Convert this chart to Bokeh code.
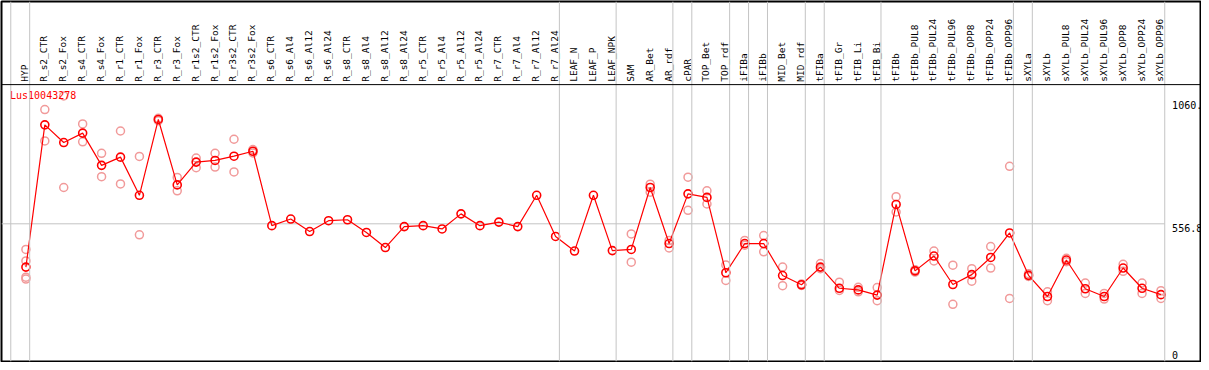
import math
from bokeh.plotting import figure
from bokeh.models import Range1d, Span, ColumnDataSource
from bokeh.core.properties import value
from bokeh.embed import file_html
from bokeh.resources import INLINE

title = "Lus10043278"

categories = [
    "HYP", "R_s2_CTR", "R_s2_Fox", "R_s4_CTR", "R_s4_Fox", "R_r1_CTR", "R_r1_Fox",
    "R_r3_CTR", "R_r3_Fox", "R_r1s2_CTR", "R_r1s2_Fox", "R_r3s2_CTR", "R_r3s2_Fox",
    "R_s6_CTR", "R_s6_Al4", "R_s6_Al12", "R_s6_Al24", "R_s8_CTR", "R_s8_Al4",
    "R_s8_Al12", "R_s8_Al24", "R_r5_CTR", "R_r5_Al4", "R_r5_Al12", "R_r5_Al24",
    "R_r7_CTR", "R_r7_Al4", "R_r7_Al12", "R_r7_Al24", "LEAF_N", "LEAF_P", "LEAF_NPK",
    "SAM", "AR_Bet", "AR_rdf", "cPAR", "TOP_Bet", "TOP_rdf", "iFIBa", "iFIBb",
    "MID_Bet", "MID_rdf", "tFIBa", "tFIB_Gr", "tFIB_Li", "tFIB_Bi", "tFIBb",
    "tFIBb_PUL8", "tFIBb_PUL24", "tFIBb_PUL96", "tFIBb_OPP8", "tFIBb_OPP24", "tFIBb_OPP96",
    "sXYLa", "sXYLb", "sXYLb_PUL8", "sXYLb_PUL24", "sXYLb_PUL96", "sXYLb_OPP8",
    "sXYLb_OPP24", "sXYLb_OPP96",
]

means = [
    373, 977, 902, 942, 805, 840, 678, 1000, 722, 819, 826, 844, 865,
    549, 577, 524, 570, 574, 520, 456, 545, 549, 535, 599, 549, 564, 545, 678, 503,
    441, 678, 443, 448, 711, 473, 684, 669, 349, 473, 473, 337, 298,
    373, 283, 276, 254, 639, 357, 420, 299, 341, 414, 518,
    338, 248, 403, 281, 248, 369, 283, 256,
]

# replicate values per category (category name -> values)
replicates = {
    "HYP": [448, 399, 330, 322],
    "R_s2_CTR": [1042, 909], "R_s2_Fox": [1100, 711],
    "R_s4_CTR": [981, 905], "R_s4_Fox": [856, 757],
    "R_r1_CTR": [951, 726], "R_r1_Fox": [843, 510],
    "R_r3_CTR": [1005, 995], "R_r3_Fox": [754, 697],
    "R_r1s2_CTR": [836, 795], "R_r1s2_Fox": [856, 798],
    "R_r3s2_CTR": [916, 777], "R_r3s2_Fox": [872, 858],
    "SAM": [514, 394], "AR_Bet": [725, 691], "AR_rdf": [486, 454],
    "cPAR": [755, 614], "TOP_Bet": [697, 641], "TOP_rdf": [382, 316],
    "iFIBa": [486, 466], "iFIBb": [507, 438], "MID_Bet": [373, 294], "MID_rdf": [301, 295],
    "tFIBa": [388, 366], "tFIB_Gr": [309, 274], "tFIB_Li": [287, 268], "tFIB_Bi": [286, 230],
    "tFIBb": [672, 607], "tFIBb_PUL8": [362, 352], "tFIBb_PUL24": [441, 399],
    "tFIBb_PUL96": [381, 215], "tFIBb_OPP8": [366, 313], "tFIBb_OPP24": [460, 369],
    "tFIBb_OPP96": [801, 240], "sXYLa": [345, 333], "sXYLb": [268, 230],
    "sXYLb_PUL8": [410, 396], "sXYLb_PUL24": [305, 261], "sXYLb_PUL96": [261, 237],
    "sXYLb_OPP8": [385, 355], "sXYLb_OPP24": [305, 261], "sXYLb_OPP96": [273, 240],
}

# last category of each group (group divider follows it); "" = before first
group_ends = ["", "HYP", "R_r7_Al24", "LEAF_NPK", "AR_rdf", "cPAR", "TOP_rdf", "iFIBa",
              "iFIBb", "MID_rdf", "tFIBa", "tFIB_Bi", "tFIBb_OPP96", "sXYLa", "sXYLb_OPP96"]

y_tick_values = [1060, 556.8, 0]
y_tick_labels = ["1060.", "556.8", "0"]
mid_line_value = 556.8

RED = "#ff0000"
PINK = "#f19a9a"
GRID = "#c4c4c4"
FONT = value("DejaVu Sans Mono")

xs = list(range(len(categories)))
idx = {c: i for i, c in enumerate(categories)}

p = figure(width=1201, height=362, output_backend="svg", toolbar_location=None,
           x_range=Range1d(-1.29, 62.09), y_range=Range1d(-28, 1501),
           min_border=1, min_border_left=1, min_border_right=1,
           min_border_top=1, min_border_bottom=1)
p.xaxis.visible = False
p.yaxis.visible = False
p.xgrid.visible = False
p.ygrid.visible = False
p.outline_line_color = "black"
p.outline_line_width = 2
p.background_fill_color = "white"

header_y = 1148

# group divider lines
for g in group_ends:
    loc = (idx[g] if g else -1) + 0.2
    p.add_layout(Span(location=loc, dimension="height", line_color=GRID, line_width=1))

# horizontal reference line
p.segment(x0=[-1.29], y0=[mid_line_value], x1=[idx["sXYLb_OPP96"] + 0.2], y1=[mid_line_value],
          line_color=GRID, line_width=1)

# header separator
p.add_layout(Span(location=header_y, dimension="width", line_color="black", line_width=1))

# category labels (vertical)
p.text(x=xs, y=[1160] * len(xs), text=categories, angle=math.pi / 2,
       text_align="left", text_baseline="middle", x_offset=-1,
       text_font=FONT, text_font_size="9.5px", text_color="black")

# replicates
rx, ry = [], []
for c, vals in replicates.items():
    for v in vals:
        rx.append(idx[c])
        ry.append(v)
p.scatter(x=rx, y=ry, marker="circle", size=8, fill_color=None,
          line_color=PINK, line_width=1.5)

# mean line and markers
p.line(x=xs, y=means, line_color=RED, line_width=1.2)
p.scatter(x=xs, y=means, marker="circle", size=8, fill_color=None,
          line_color=RED, line_width=1.6)

# title
p.text(x=[-0.84], y=[1101], text=[title], text_align="left", text_baseline="middle",
       text_font=FONT, text_font_size="10px", text_color=RED)

# value labels at right
for v, lab in zip(y_tick_values, y_tick_labels):
    base = "top" if v == mid_line_value else "middle"
    p.text(x=[60.59], y=[v], text=[lab], text_align="left", text_baseline=base,
           text_font=FONT, text_font_size="10px", text_color="black")

open("out.html", "w").write(file_html(p, INLINE))
